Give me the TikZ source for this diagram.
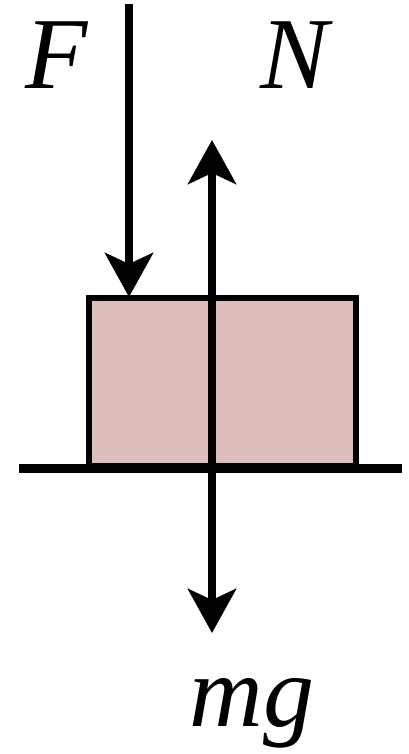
\documentclass[tikz,border=0pt]{standalone}
\usepackage{fontspec}
\setmainfont{Liberation Serif}
\usetikzlibrary{arrows.meta}
\definecolor{boxpink}{RGB}{221,190,189}
\begin{document}
\begin{tikzpicture}[x=1pt,y=-1pt,
  force/.style={line width=8pt,-{Stealth[length=44pt,width=48pt,inset=11pt]}},
  lbl/.style={inner sep=0pt,anchor=base,font=\fontsize{102}{102}\selectfont\itshape}]
\useasboundingbox (0,0) rectangle (409,754);
% block
\draw[line width=5.5pt,fill=boxpink] (89,298) rectangle (356,466);
\coordinate (block top) at (129,297);
% ground
\coordinate (gl) at (19,468);
\coordinate (gr) at (402,468);
\draw[line width=9pt] (gl) -- (gr);
% forces
\coordinate (Fstart) at (129,4);
\draw[force] (Fstart) -- (block top);
\coordinate (c) at (212,400);
\coordinate (Ntip) at (212,140);
\coordinate (mgtip) at (212,633);
\draw[force] (c) -- (Ntip);
\draw[force] (c) -- (mgtip);
% labels
\node[lbl] (F) at (57,89) {F};
\node[lbl] (N) at (295,89) {N};
\node[lbl] (mg) at (252,726) {mg};
\end{tikzpicture}
\end{document}
